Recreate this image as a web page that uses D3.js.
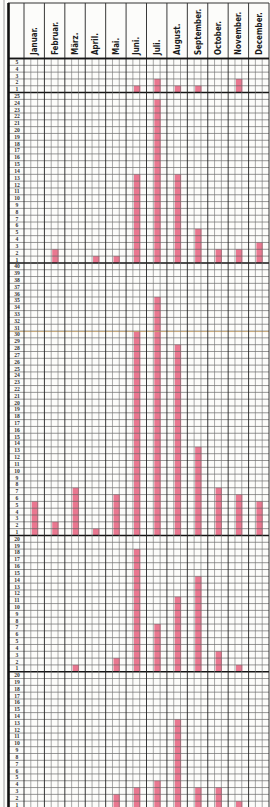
<!DOCTYPE html>
<html>
<head>
<meta charset="utf-8">
<script src="https://cdn.jsdelivr.net/npm/d3@7"></script>
<style>
  html, body { margin: 0; padding: 0; background: #fcfcfa; }
  #chart { width: 270px; height: 807px; }
</style>
</head>
<body>
<div id="chart"></div>
<script>
// month names as printed in the header
const months = ["Januar.", "Februar.", "März.", "April.", "Mai.", "Juni.", "Juli.",
                "August.", "September.", "October.", "November.", "December."];

// number of rows in each stacked panel (top to bottom)
const panelRows = [5, 25, 40, 20, 20];

// values per month for each panel
const panel1 = [0, 0, 0, 0, 0, 1, 2, 1, 1, 0, 2, 0];
const panel2 = [0, 2, 0, 1, 1, 13, 24, 13, 5, 2, 2, 3];
const panel3 = [5, 2, 7, 1, 6, 30, 35, 28, 13, 7, 6, 5];
const panel4 = [0, 0, 1, 0, 2, 18, 7, 11, 14, 3, 1, 0];
const panel5 = [0, 0, 0, 0, 2, 3, 4, 13, 3, 3, 1, 0];
const panelValues = [panel1, panel2, panel3, panel4, panel5];

const W = 270, H = 807;
const totalRows = d3.sum(panelRows);

const svg = d3.select("#chart").append("svg")
    .attr("width", W)
    .attr("height", H);

svg.append("rect").attr("width", W).attr("height", H).attr("fill", "#fcfcfa");

const x = d3.scaleBand().domain(months).range([24, 269]);
const sub = x.bandwidth() / 3;
const y = d3.scaleLinear().domain([0, totalRows]).range([58.5, 808]);

// panel start offsets (in rows)
const offsets = [];
let acc = 0;
panelRows.forEach(n => { offsets.push(acc); acc += n; });

// bars first, grid drawn over them
panelValues.forEach((vals, p) => {
    const base = offsets[p] + panelRows[p];
    svg.append("g").selectAll("rect")
        .data(vals.map((v, i) => ({ m: months[i], v: v })).filter(d => d.v > 0))
        .join("rect")
        .attr("x", d => x(d.m) + sub + 1)
        .attr("width", sub - 0.4)
        .attr("y", d => y(base - d.v))
        .attr("height", d => y(base) - y(base - d.v))
        .attr("fill", "#ea7790");
});

// horizontal grid
const boundaries = new Set(offsets);
const hLines = d3.range(0, totalRows + 1);
svg.append("g").selectAll("line")
    .data(hLines)
    .join("line")
    .attr("x1", 9).attr("x2", 269)
    .attr("y1", d => y(d)).attr("y2", d => y(d))
    .attr("stroke", d => boundaries.has(d) ? "#151515" : "#5e5e5e")
    .attr("stroke-width", d => boundaries.has(d) ? 1.5 : 0.65);

// fold mark on the paper
svg.append("line")
    .attr("x1", 9).attr("x2", 269)
    .attr("y1", y(offsets[2] + 10) + 0.5).attr("y2", y(offsets[2] + 10) + 0.5)
    .attr("stroke", "#c9a46a").attr("stroke-width", 1).attr("opacity", 0.8);

// vertical grid (three sub-columns per month)
const vLines = d3.range(0, months.length * 3 + 1);
svg.append("g").selectAll("line")
    .data(vLines)
    .join("line")
    .attr("x1", d => 24 + d * sub).attr("x2", d => 24 + d * sub)
    .attr("y1", d => d % 3 === 0 ? 3 : 58.5)
    .attr("y2", H)
    .attr("stroke", d => d % 3 === 0 ? "#222" : "#707070")
    .attr("stroke-width", d => d % 3 === 0 ? 0.9 : 0.6);

// header box
svg.append("line").attr("x1", 8).attr("x2", 269).attr("y1", 3).attr("y2", 3)
    .attr("stroke", "#333").attr("stroke-width", 1);
svg.append("line").attr("x1", 8).attr("x2", 269).attr("y1", 58.5).attr("y2", 58.5)
    .attr("stroke", "#151515").attr("stroke-width", 1.3);

// left frame
svg.append("line").attr("x1", 4).attr("x2", 4).attr("y1", 0).attr("y2", H)
    .attr("stroke", "#888").attr("stroke-width", 0.8);
svg.append("line").attr("x1", 8.5).attr("x2", 8.5).attr("y1", 3).attr("y2", H)
    .attr("stroke", "#111").attr("stroke-width", 2.6);

// month labels, rotated
svg.append("g").selectAll("text")
    .data(months)
    .join("text")
    .attr("transform", d => `translate(${x(d) + x.bandwidth() / 2 + 3},55) rotate(-90)`)
    .attr("font-family", "DejaVu Sans Condensed, DejaVu Sans")
    .attr("font-stretch", "condensed")
    .attr("font-weight", "bold")
    .attr("font-size", 8)
    .attr("fill", "#1a1a1a")
    .text(d => d);

// row numbers
panelRows.forEach((n, p) => {
    const base = offsets[p] + n;
    svg.append("g").selectAll("text")
        .data(d3.range(1, n + 1))
        .join("text")
        .attr("x", 17)
        .attr("y", r => y(base - r + 0.5) + 2)
        .attr("text-anchor", "middle")
        .attr("font-family", "Liberation Serif")
        .attr("font-weight", "bold")
        .attr("font-size", 5.6)
        .attr("fill", "#333")
        .text(r => r);
});
</script>
</body>
</html>
